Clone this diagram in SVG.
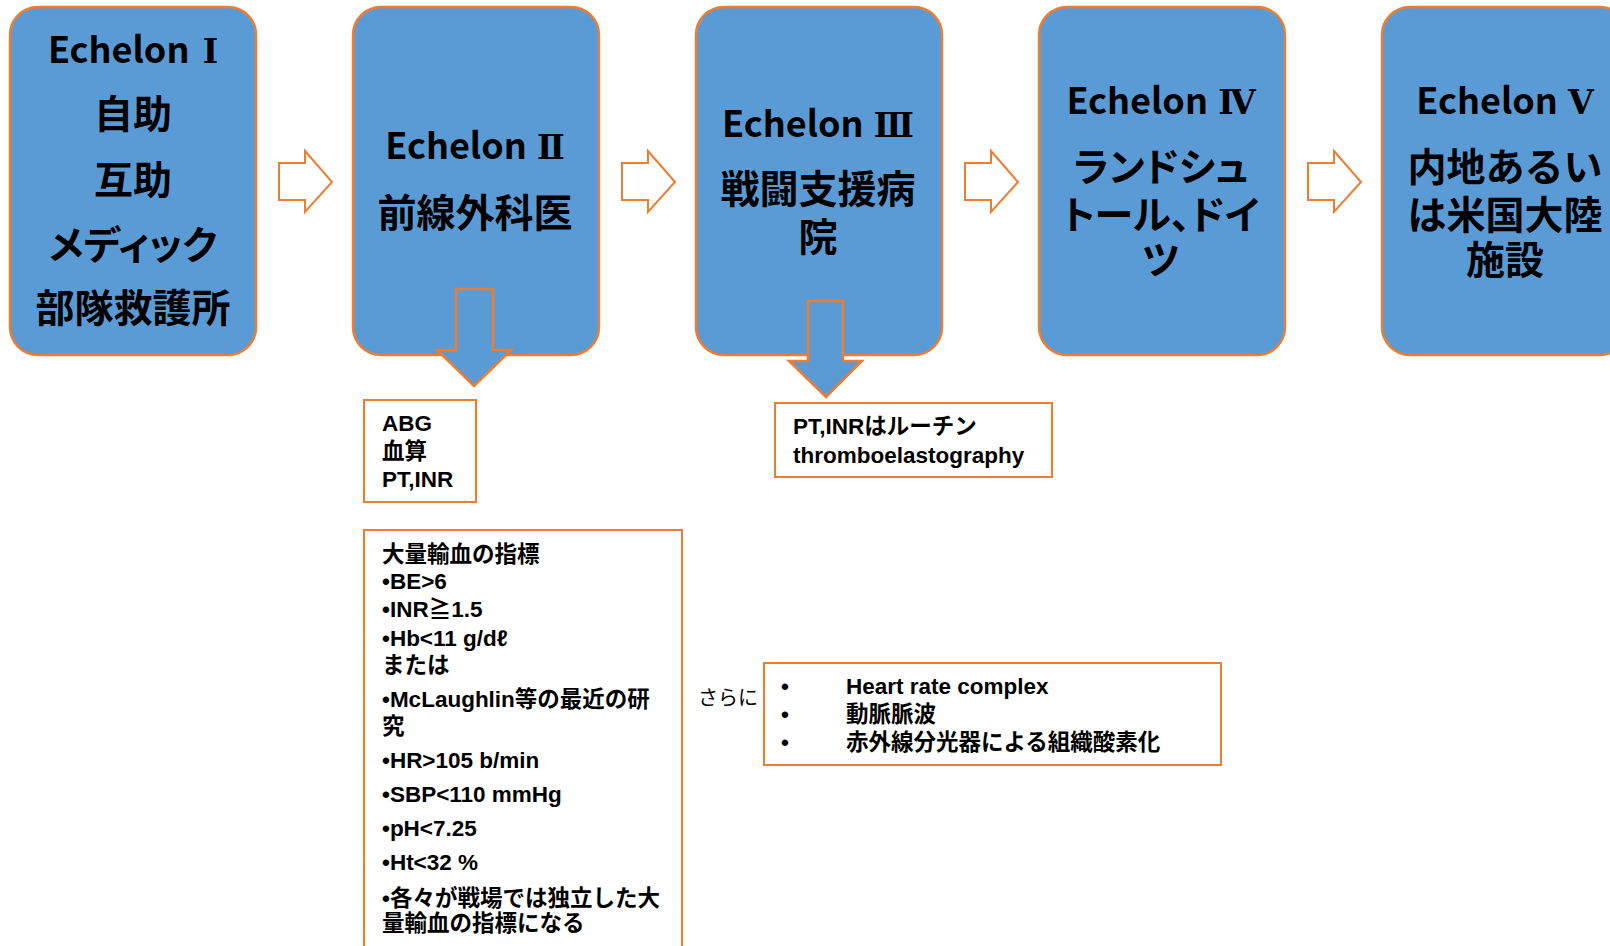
<svg xmlns="http://www.w3.org/2000/svg" width="1610" height="946" viewBox="0 0 1610 946">
<style>
.box{fill:#5B9BD5;stroke:#ED7D31;stroke-width:2.5}
.ech{font-family:"Noto Sans CJK JP",sans-serif;font-weight:bold;font-size:36px;fill:#000}
.num{font-family:"DejaVu Serif","Noto Sans CJK JP",serif;font-size:33px}
.jp{font-family:"Noto Sans CJK JP",sans-serif;font-weight:bold;font-size:39px;fill:#000}
.kana{font-feature-settings:"palt"}
.harrow{fill:#fff;stroke:#ED7D31;stroke-width:2}
.varrow{fill:#5B9BD5;stroke:#ED7D31;stroke-width:2.5}
.note{fill:#fff;stroke:#ED7D31;stroke-width:2}
.t{font-family:"Liberation Sans","Noto Sans CJK JP",sans-serif;font-weight:bold;font-size:22.5px;fill:#000}
.r{font-family:"Noto Sans CJK JP","Liberation Sans",sans-serif;font-size:20px;fill:#000}
</style>
<g id="echelon1">
<rect class="box" x="10" y="7" width="246" height="348" rx="28"/>
<text class="ech" x="133" y="63" text-anchor="middle">Echelon <tspan class="num" dx="5">Ⅰ</tspan></text>
<text class="jp" x="133" y="128" text-anchor="middle">自助</text>
<text class="jp" x="133" y="194" text-anchor="middle">互助</text>
<text class="jp kana" x="133" y="259" text-anchor="middle">メディック</text>
<text class="jp" x="133" y="322" text-anchor="middle">部隊救護所</text>
</g>
<g id="echelon2">
<rect class="box" x="353" y="7" width="246" height="348" rx="28"/>
<text class="ech" x="475" y="159" text-anchor="middle">Echelon <tspan class="num" dx="2">Ⅱ</tspan></text>
<text class="jp" x="475" y="227" text-anchor="middle">前線外科医</text>
</g>
<g id="echelon3">
<rect class="box" x="696" y="7" width="246" height="348" rx="28"/>
<text class="ech" x="818" y="137" text-anchor="middle">Echelon <tspan class="num" dx="2">Ⅲ</tspan></text>
<text class="jp" x="818" y="203" text-anchor="middle">戦闘支援病</text>
<text class="jp" x="818" y="251" text-anchor="middle">院</text>
</g>
<g id="echelon4">
<rect class="box" x="1039" y="7" width="246" height="348" rx="28"/>
<text class="ech" x="1161" y="114" text-anchor="middle">Echelon <tspan class="num" dx="2">Ⅳ</tspan></text>
<text class="jp kana" x="1161" y="181" text-anchor="middle">ランドシュ</text>
<text class="jp kana" x="1161" y="229" text-anchor="middle">トール、ドイ</text>
<text class="jp kana" x="1161" y="274" text-anchor="middle">ツ</text>
</g>
<g id="echelon5">
<rect class="box" x="1382" y="7" width="246" height="348" rx="28"/>
<text class="ech" x="1505" y="114" text-anchor="middle">Echelon <tspan class="num" dx="2">Ⅴ</tspan></text>
<text class="jp" x="1505" y="181" text-anchor="middle">内地あるい</text>
<text class="jp" x="1505" y="229" text-anchor="middle">は米国大陸</text>
<text class="jp" x="1505" y="274" text-anchor="middle">施設</text>
</g>
<g id="connectors">
<path class="harrow" d="M279,163 H305 V151 L332,182 L305,212 V200 H279 Z"/>
<path class="harrow" d="M622,163 H648 V151 L675,182 L648,212 V200 H622 Z"/>
<path class="harrow" d="M965,163 H991 V151 L1018,182 L991,212 V200 H965 Z"/>
<path class="harrow" d="M1308,163 H1334 V151 L1361,182 L1334,212 V200 H1308 Z"/>
<path class="varrow" d="M456,289 H493 V350 H511 L474,386 L437,350 H456 Z"/>
<path class="varrow" d="M808,301 H843 V361 H862 L826,397 L789,361 H808 Z"/>
</g>
<g id="labs1">
<rect class="note" x="364" y="400" width="112" height="102"/>
<text class="t" x="382" y="431">ABG</text>
<text class="t" x="382" y="459">血算</text>
<text class="t" x="382" y="487">PT,INR</text>
</g>
<g id="labs3">
<rect class="note" x="775" y="403" width="277" height="74"/>
<text class="t" x="793" y="434">PT,INRはルーチン</text>
<text class="t" x="793" y="463">thromboelastography</text>
</g>
<g id="criteria">
<rect class="note" x="364" y="530" width="318" height="440"/>
<text class="t" x="382" y="562">大量輸血の指標</text>
<text class="t" x="382" y="589">•BE&gt;6</text>
<text class="t" x="382" y="617">•INR≧1.5</text>
<text class="t" x="382" y="646">•Hb&lt;11 g/dℓ</text>
<text class="t" x="382" y="673">または</text>
<text class="t" x="382" y="707">•McLaughlin等の最近の研</text>
<text class="t" x="382" y="734">究</text>
<text class="t" x="382" y="768">•HR&gt;105 b/min</text>
<text class="t" x="382" y="802">•SBP&lt;110 mmHg</text>
<text class="t" x="382" y="836">•pH&lt;7.25</text>
<text class="t" x="382" y="870">•Ht&lt;32 %</text>
<text class="t" x="382" y="906">•各々が戦場では独立した大</text>
<text class="t" x="382" y="931">量輸血の指標になる</text>
</g>
<g id="further">
<text class="r" x="698" y="705">さらに</text>
<rect class="note" x="764" y="663" width="457" height="102"/>
<text class="t" x="781" y="694">•</text>
<text class="t" x="846" y="694">Heart rate complex</text>
<text class="t" x="781" y="722">•</text>
<text class="t" x="846" y="722">動脈脈波</text>
<text class="t" x="781" y="750">•</text>
<text class="t" x="846" y="750">赤外線分光器による組織酸素化</text>
</g>
</svg>
